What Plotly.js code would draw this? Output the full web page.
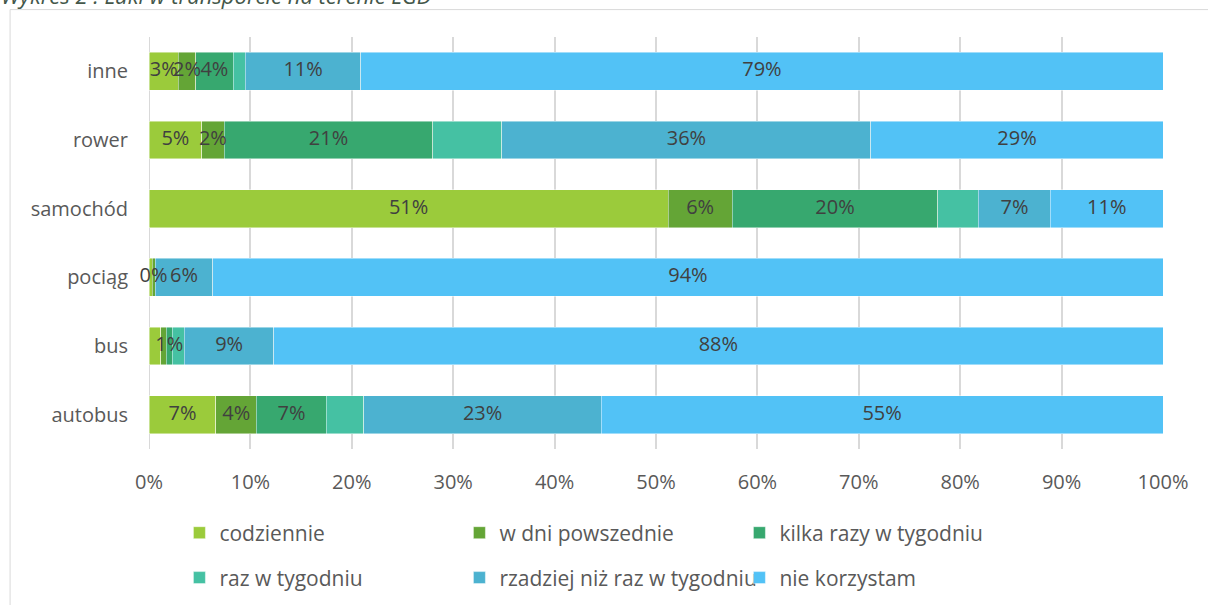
<!DOCTYPE html>
<html>
<head>
<meta charset="utf-8">
<script src="https://cdn.plot.ly/plotly-3.0.1.min.js"></script>
<style>html,body{margin:0;padding:0;background:#fff;}#chart{width:1208px;height:605px;}</style>
</head>
<body>
<div id="chart"></div>
<script>
// Categories (bottom to top as drawn)
const categories = ['autobus', 'bus', 'pociąg', 'samochód', 'rower', 'inne'];
const seriesNames = ['codziennie', 'w dni powszednie', 'kilka razy w tygodniu', 'raz w tygodniu', 'rzadziej niż raz w tygodniu', 'nie korzystam'];

// Values in percent
const codziennie = [6.6, 1.15, 0.3, 51.2, 5.2, 2.9];
const wDniPowszednie = [4.0, 0.55, 0.3, 6.3, 2.2, 1.7];
const kilkaRazy = [6.9, 0.6, 0.0, 20.3, 20.6, 3.7];
const razWTygodniu = [3.7, 1.2, 0.0, 4.0, 6.8, 1.2];
const rzadziej = [23.4, 8.8, 5.7, 7.1, 36.4, 11.4];
const nieKorzystam = [55.4, 87.7, 93.7, 11.1, 28.8, 79.1];

// Which data labels are shown in the original
const showCodziennie = [true, false, false, true, true, true];
const showWDni = [true, false, true, true, true, true];
const showKilka = [true, true, false, true, true, true];
const showRaz = [false, false, false, false, false, false];
const showRzadziej = [true, true, true, true, true, true];
const showNie = [true, true, true, true, true, true];

const xTicks = [0, 10, 20, 30, 40, 50, 60, 70, 80, 90, 100];

const colors = ['#9BCB3B', '#64A536', '#37A86F', '#45C1A3', '#4CB2D0', '#52C2F6'];
const allValues = [codziennie, wDniPowszednie, kilkaRazy, razWTygodniu, rzadziej, nieKorzystam];
const allShow = [showCodziennie, showWDni, showKilka, showRaz, showRzadziej, showNie];

const FONT = '"Open Sans", "Noto Sans", sans-serif';

const barTraces = allValues.map((vals, i) => ({
  type: 'bar',
  orientation: 'h',
  name: seriesNames[i],
  y: categories,
  x: vals,
  marker: {color: colors[i], line: {color: 'rgba(255,255,255,0.6)', width: 0.75}},
  hoverinfo: 'skip',
  legend: i < 3 ? 'legend' : 'legend2'
}));

// Data labels drawn on top of all bars, centred on each stacked segment
const labelTraces = allValues.map((vals, i) => {
  const centers = vals.map((v, j) => {
    let base = 0;
    for (let k = 0; k < i; k++) base += allValues[k][j];
    return base + v / 2;
  });
  return {
    type: 'scatter',
    mode: 'text',
    x: centers,
    y: categories,
    text: vals.map((v, j) => allShow[i][j] ? Math.round(v) + '%' : ''),
    textposition: 'middle center',
    textfont: {family: FONT, size: 20, color: '#404040'},
    cliponaxis: false,
    showlegend: false,
    hoverinfo: 'skip'
  };
});

const legendCommon = {
  orientation: 'h',
  xanchor: 'left',
  yanchor: 'middle',
  entrywidth: 235,
  font: {family: FONT, size: 21, color: '#595959'},
  bgcolor: 'rgba(0,0,0,0)',
  traceorder: 'normal'
};

const layout = {
  width: 1208,
  height: 605,
  margin: {l: 149, r: 45, t: 37, b: 156, autoexpand: false},
  paper_bgcolor: '#ffffff',
  plot_bgcolor: '#ffffff',
  barmode: 'stack',
  bargap: 0.45,
  showlegend: true,
  legend: Object.assign({}, legendCommon, {x: 0.030, y: -0.204}),
  legend2: Object.assign({}, legendCommon, {x: 0.030, y: -0.313}),
  xaxis: {
    range: [0, 100],
    tickvals: xTicks,
    ticktext: xTicks.map(t => t + '%'),
    showgrid: true,
    gridcolor: '#d9d9d9',
    gridwidth: 2,
    zeroline: false,
    showline: false,
    ticks: '',
    ticklabelstandoff: 19,
    tickfont: {family: FONT, size: 20, color: '#595959'},
    fixedrange: true
  },
  yaxis: {
    type: 'category',
    categoryorder: 'array',
    categoryarray: categories,
    range: [-0.5, 5.5],
    autorange: false,
    showgrid: false,
    zeroline: false,
    showline: false,
    ticks: '',
    ticklabelstandoff: 20,
    tickfont: {family: FONT, size: 20, color: '#595959'},
    fixedrange: true
  },
  shapes: [
    {type: 'line', xref: 'x', yref: 'paper', x0: 0, x1: 0, y0: 0, y1: 1, line: {color: '#d9d9d9', width: 2}, layer: 'below'},
    {type: 'rect', xref: 'paper', yref: 'paper', x0: -0.137, x1: 1.06, y0: -0.45, y1: 1.0665, line: {color: '#d9d9d9', width: 1}, fillcolor: 'rgba(0,0,0,0)', layer: 'below'}
  ],
  annotations: [
    {xref: 'paper', yref: 'paper', x: -0.148, y: 1.103, xanchor: 'left', yanchor: 'middle', showarrow: false,
     text: '<i>Wykres 2 : Luki w transporcie na terenie LGD</i>',
     font: {family: FONT, size: 22, color: '#44574A'}}
  ]
};

Plotly.newPlot('chart', barTraces.concat(labelTraces), layout, {displayModeBar: false, staticPlot: true});
</script>
</body>
</html>
